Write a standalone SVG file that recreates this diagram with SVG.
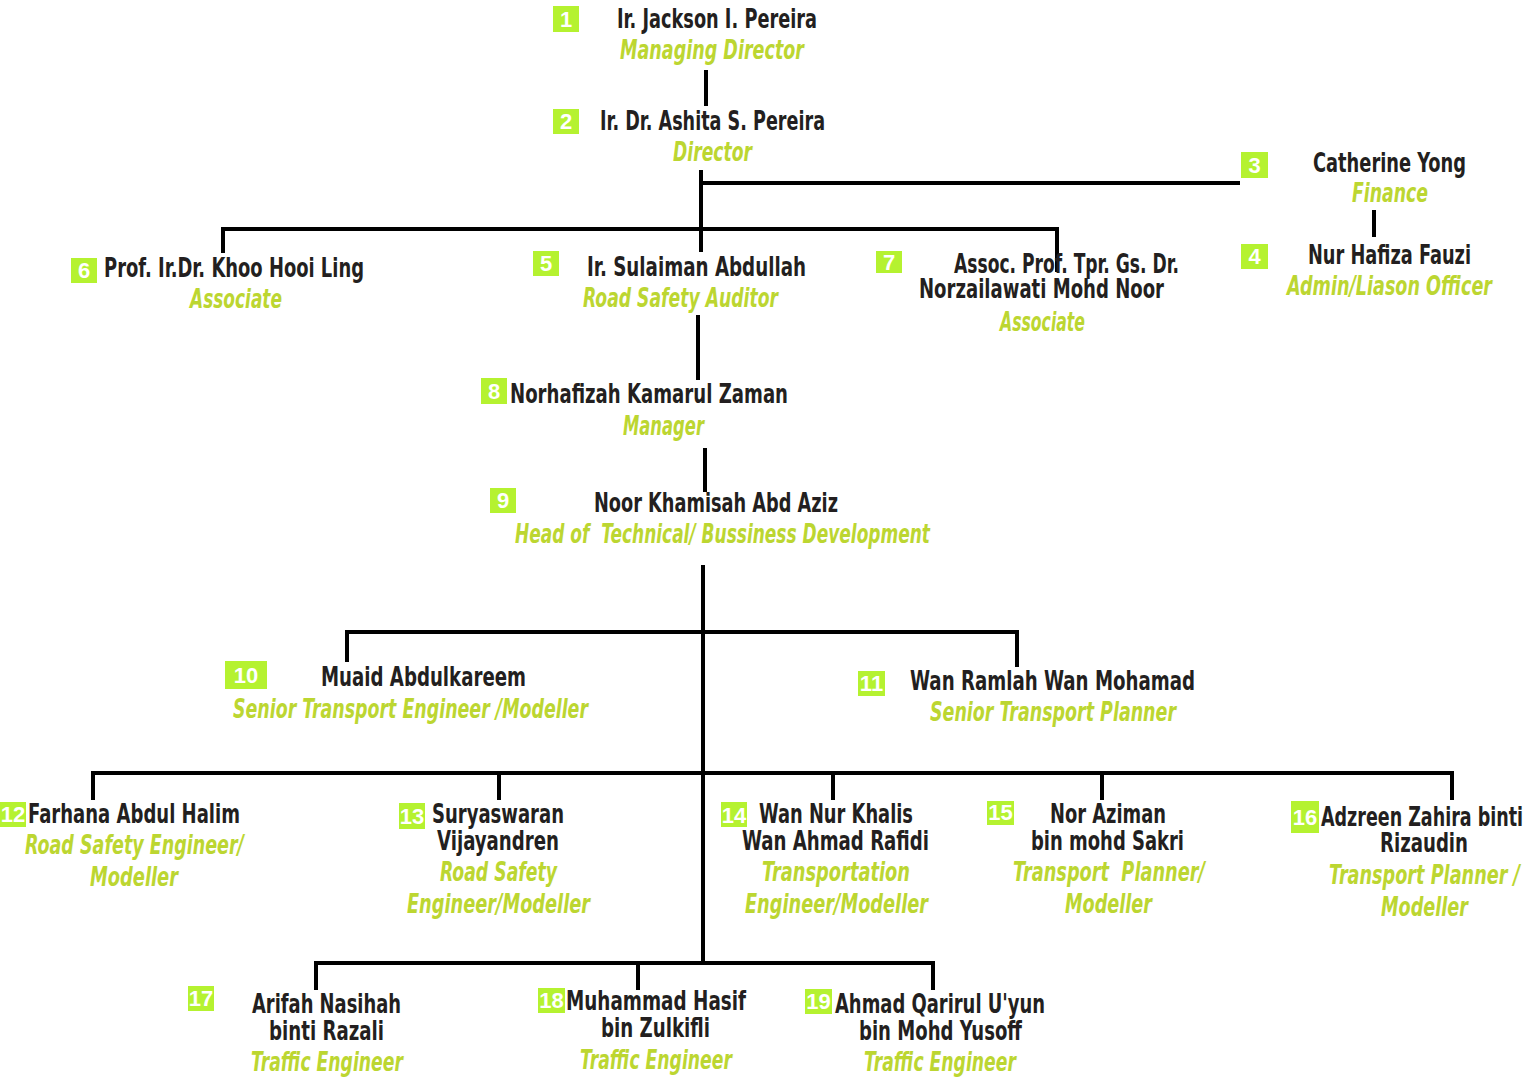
<svg xmlns="http://www.w3.org/2000/svg" width="1525" height="1080" viewBox="0 0 1525 1080">
<style>
.n{font-family:"Liberation Sans Narrow","DejaVu Sans Condensed","Liberation Sans",sans-serif;font-weight:bold;font-size:27px;fill:#231f20}
.t{font-family:"Liberation Sans Narrow","DejaVu Sans Condensed","Liberation Sans",sans-serif;font-weight:bold;font-style:italic;font-size:26px;fill:#bcd631}
.b{fill:#b5f230}
.bn{font-family:"Liberation Sans","DejaVu Sans",sans-serif;font-weight:bold;font-size:22px;fill:#ffffff;text-anchor:middle}
.c{stroke:#000;stroke-width:4;fill:none}
</style>
<rect width="1525" height="1080" fill="#ffffff"/>
<g id="connectors" class="c">
<path d="M706 70V106"/>
<path d="M701 170V252M701 183H1240"/>
<path d="M223 229H1057M223 227V253M1057 227V272"/>
<path d="M1374 210V237"/>
<path d="M698 315V380"/>
<path d="M705 448V492"/>
<path d="M703 565V962"/>
<path d="M347 632H1017M347 630V662M1017 630V667"/>
<path d="M93 773H1452M93 771V800M499 771V800M833 771V800M1102 771V800M1452 771V800"/>
<path d="M316 963H933M316 961V990M638 961V990M933 961V990"/>
</g>
<g id="node1">
<rect class="b" x="553" y="6" width="26" height="26"/><text class="bn" x="566" y="27">1</text>
<text class="n" x="617" y="28" textLength="200" lengthAdjust="spacingAndGlyphs">Ir. Jackson I. Pereira</text>
<text class="t" x="620" y="59" textLength="184" lengthAdjust="spacingAndGlyphs">Managing Director</text>
</g>
<g id="node2">
<rect class="b" x="553" y="109" width="26" height="25"/><text class="bn" x="566" y="129">2</text>
<text class="n" x="600" y="130" textLength="225" lengthAdjust="spacingAndGlyphs">Ir. Dr. Ashita S. Pereira</text>
<text class="t" x="673" y="161" textLength="79" lengthAdjust="spacingAndGlyphs">Director</text>
</g>
<g id="node3">
<rect class="b" x="1241" y="152" width="27" height="26"/><text class="bn" x="1254.5" y="173">3</text>
<text class="n" x="1313" y="172" textLength="153" lengthAdjust="spacingAndGlyphs">Catherine Yong</text>
<text class="t" x="1352" y="202" textLength="76" lengthAdjust="spacingAndGlyphs">Finance</text>
</g>
<g id="node4">
<rect class="b" x="1241" y="244" width="27" height="25"/><text class="bn" x="1254.5" y="264">4</text>
<text class="n" x="1308" y="264" textLength="163" lengthAdjust="spacingAndGlyphs">Nur Hafiza Fauzi</text>
<text class="t" x="1287" y="295" textLength="205" lengthAdjust="spacingAndGlyphs">Admin/Liason Officer</text>
</g>
<g id="node6">
<rect class="b" x="71" y="258" width="26" height="25"/><text class="bn" x="84" y="278">6</text>
<text class="n" x="104" y="277" textLength="260" lengthAdjust="spacingAndGlyphs">Prof. Ir.Dr. Khoo Hooi Ling</text>
<text class="t" x="190" y="308" textLength="92" lengthAdjust="spacingAndGlyphs">Associate</text>
</g>
<g id="node5">
<rect class="b" x="533" y="251" width="26" height="25"/><text class="bn" x="546" y="271">5</text>
<text class="n" x="587" y="276" textLength="219" lengthAdjust="spacingAndGlyphs">Ir. Sulaiman Abdullah</text>
<text class="t" x="583" y="307" textLength="195" lengthAdjust="spacingAndGlyphs">Road Safety Auditor</text>
</g>
<g id="node7">
<rect class="b" x="876" y="251" width="26" height="22"/><text class="bn" x="889" y="270">7</text>
<text class="n" x="954" y="273" textLength="225" lengthAdjust="spacingAndGlyphs">Assoc. Prof. Tpr. Gs. Dr.</text>
<text class="n" x="919" y="298" textLength="245" lengthAdjust="spacingAndGlyphs">Norzailawati Mohd Noor</text>
<text class="t" x="1000" y="331" textLength="85" lengthAdjust="spacingAndGlyphs">Associate</text>
</g>
<g id="node8">
<rect class="b" x="481" y="378" width="26" height="26"/><text class="bn" x="494" y="399">8</text>
<text class="n" x="510" y="403" textLength="278" lengthAdjust="spacingAndGlyphs">Norhafizah Kamarul Zaman</text>
<text class="t" x="623" y="435" textLength="81" lengthAdjust="spacingAndGlyphs">Manager</text>
</g>
<g id="node9">
<rect class="b" x="490" y="488" width="26" height="25"/><text class="bn" x="503" y="508">9</text>
<text class="n" x="594" y="512" textLength="244" lengthAdjust="spacingAndGlyphs">Noor Khamisah Abd Aziz</text>
<text class="t" x="515" y="543" textLength="415" lengthAdjust="spacingAndGlyphs" xml:space="preserve">Head of  Technical/ Bussiness Development</text>
</g>
<g id="node10">
<rect class="b" x="225" y="661" width="42" height="28"/><text class="bn" x="246" y="683">10</text>
<text class="n" x="321" y="686" textLength="205" lengthAdjust="spacingAndGlyphs">Muaid Abdulkareem</text>
<text class="t" x="233" y="718" textLength="355" lengthAdjust="spacingAndGlyphs">Senior Transport Engineer /Modeller</text>
</g>
<g id="node11">
<rect class="b" x="858" y="671" width="27" height="25"/><text class="bn" x="871.5" y="691">11</text>
<text class="n" x="910" y="690" textLength="285" lengthAdjust="spacingAndGlyphs">Wan Ramlah Wan Mohamad</text>
<text class="t" x="930" y="721" textLength="246" lengthAdjust="spacingAndGlyphs">Senior Transport Planner</text>
</g>
<g id="node12">
<rect class="b" x="0" y="802" width="26" height="25"/><text class="bn" x="13" y="822">12</text>
<text class="n" x="28" y="823" textLength="212" lengthAdjust="spacingAndGlyphs">Farhana Abdul Halim</text>
<text class="t" x="25" y="854" textLength="219" lengthAdjust="spacingAndGlyphs">Road Safety Engineer/</text>
<text class="t" x="90" y="886" textLength="88" lengthAdjust="spacingAndGlyphs">Modeller</text>
</g>
<g id="node13">
<rect class="b" x="399" y="803" width="26" height="26"/><text class="bn" x="412" y="824">13</text>
<text class="n" x="432" y="823" textLength="132" lengthAdjust="spacingAndGlyphs">Suryaswaran</text>
<text class="n" x="437" y="850" textLength="122" lengthAdjust="spacingAndGlyphs">Vijayandren</text>
<text class="t" x="440" y="881" textLength="117" lengthAdjust="spacingAndGlyphs">Road Safety</text>
<text class="t" x="407" y="913" textLength="183" lengthAdjust="spacingAndGlyphs">Engineer/Modeller</text>
</g>
<g id="node14">
<rect class="b" x="721" y="802" width="26" height="25"/><text class="bn" x="734" y="823">14</text>
<text class="n" x="759" y="823" textLength="154" lengthAdjust="spacingAndGlyphs">Wan Nur Khalis</text>
<text class="n" x="742" y="850" textLength="187" lengthAdjust="spacingAndGlyphs">Wan Ahmad Rafidi</text>
<text class="t" x="762" y="881" textLength="148" lengthAdjust="spacingAndGlyphs">Transportation</text>
<text class="t" x="745" y="913" textLength="183" lengthAdjust="spacingAndGlyphs">Engineer/Modeller</text>
</g>
<g id="node15">
<rect class="b" x="987" y="801" width="27" height="24"/><text class="bn" x="1000.5" y="820">15</text>
<text class="n" x="1050" y="823" textLength="116" lengthAdjust="spacingAndGlyphs">Nor Aziman</text>
<text class="n" x="1031" y="850" textLength="153" lengthAdjust="spacingAndGlyphs">bin mohd Sakri</text>
<text class="t" x="1013" y="881" textLength="192" lengthAdjust="spacingAndGlyphs" xml:space="preserve">Transport  Planner/</text>
<text class="t" x="1065" y="913" textLength="87" lengthAdjust="spacingAndGlyphs">Modeller</text>
</g>
<g id="node16">
<rect class="b" x="1291" y="801" width="28" height="32"/><text class="bn" x="1305" y="825">16</text>
<text class="n" x="1321" y="826" textLength="202" lengthAdjust="spacingAndGlyphs">Adzreen Zahira binti</text>
<text class="n" x="1380" y="852" textLength="88" lengthAdjust="spacingAndGlyphs">Rizaudin</text>
<text class="t" x="1329" y="884" textLength="191" lengthAdjust="spacingAndGlyphs">Transport Planner /</text>
<text class="t" x="1381" y="916" textLength="87" lengthAdjust="spacingAndGlyphs">Modeller</text>
</g>
<g id="node17">
<rect class="b" x="188" y="986" width="26" height="25"/><text class="bn" x="201" y="1006">17</text>
<text class="n" x="252" y="1013" textLength="149" lengthAdjust="spacingAndGlyphs">Arifah Nasihah</text>
<text class="n" x="269" y="1040" textLength="115" lengthAdjust="spacingAndGlyphs">binti Razali</text>
<text class="t" x="251" y="1071" textLength="152" lengthAdjust="spacingAndGlyphs">Traffic Engineer</text>
</g>
<g id="node18">
<rect class="b" x="538" y="988" width="27" height="25"/><text class="bn" x="551.5" y="1008">18</text>
<text class="n" x="566" y="1010" textLength="180" lengthAdjust="spacingAndGlyphs">Muhammad Hasif</text>
<text class="n" x="601" y="1037" textLength="109" lengthAdjust="spacingAndGlyphs">bin Zulkifli</text>
<text class="t" x="580" y="1069" textLength="152" lengthAdjust="spacingAndGlyphs">Traffic Engineer</text>
</g>
<g id="node19">
<rect class="b" x="805" y="989" width="27" height="25"/><text class="bn" x="818.5" y="1009">19</text>
<text class="n" x="835" y="1013" textLength="210" lengthAdjust="spacingAndGlyphs">Ahmad Qarirul U'yun</text>
<text class="n" x="859" y="1040" textLength="163" lengthAdjust="spacingAndGlyphs">bin Mohd Yusoff</text>
<text class="t" x="864" y="1071" textLength="152" lengthAdjust="spacingAndGlyphs">Traffic Engineer</text>
</g>
</svg>
